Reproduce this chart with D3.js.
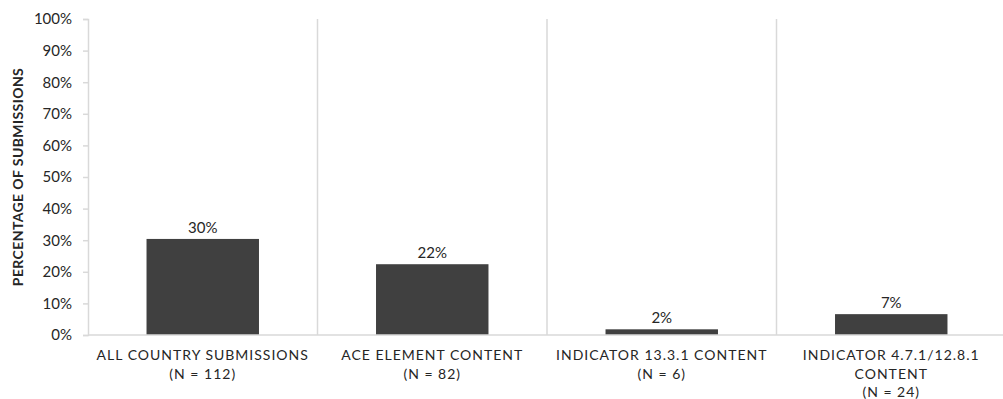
<!DOCTYPE html>
<html>
<head>
<meta charset="utf-8">
<script src="https://cdn.jsdelivr.net/npm/d3@7"></script>
<style>
  body { margin: 0; background: #fff; }
  text { font-family: Lato, "Open Sans", sans-serif; fill: #262626; }
</style>
</head>
<body>
<div id="chart"></div>
<script>
var categories = [
    ["ALL COUNTRY SUBMISSIONS", "(N = 112)"],
    ["ACE ELEMENT CONTENT", "(N = 82)"],
    ["INDICATOR 13.3.1 CONTENT", "(N = 6)"],
    ["INDICATOR 4.7.1/12.8.1", "CONTENT", "(N = 24)"]
];
var values = [30.4, 22.4, 1.8, 6.6];
var y_ticks = [0, 10, 20, 30, 40, 50, 60, 70, 80, 90, 100];

var width = 1003;
var height = 399;
var left = 88;
var right = 1006;
var top_y = 19;
var base_y = 335;

var bar_color = "#404040";
var line_color = "#d9d9d9";

var svg = d3.select("#chart").append("svg")
    .attr("width", width)
    .attr("height", height);

var x = d3.scaleBand()
    .domain(d3.range(categories.length))
    .range([left, right])
    .padding(0);

var y = d3.scaleLinear()
    .domain([0, 100])
    .range([base_y, top_y]);

// y axis
var yAxis = svg.append("g")
    .attr("transform", "translate(" + left + ",0)")
    .call(d3.axisLeft(y).tickValues(y_ticks).tickSize(5).tickPadding(11)
        .tickFormat(function (d) { return d + "%"; }));
yAxis.select(".domain").attr("stroke", line_color).attr("stroke-width", 1.5);
yAxis.selectAll(".tick line").attr("stroke", line_color).attr("stroke-width", 1.5);
yAxis.selectAll(".tick text")
    .style("font-size", "15px")
    .style("font-family", "Lato, sans-serif")
    .attr("fill", "#262626");

// separators between categories
svg.append("g").selectAll("line")
    .data(d3.range(1, categories.length))
    .enter().append("line")
    .attr("x1", function (i) { return x(i); })
    .attr("x2", function (i) { return x(i); })
    .attr("y1", y(100))
    .attr("y2", y(0))
    .attr("stroke", line_color)
    .attr("stroke-width", 1.5);

// bars
var bar_w = x.bandwidth() * 0.49;
svg.append("g").selectAll("rect")
    .data(values)
    .enter().append("rect")
    .attr("x", function (d, i) { return x(i) + (x.bandwidth() - bar_w) / 2; })
    .attr("y", function (d) { return y(d); })
    .attr("width", bar_w)
    .attr("height", function (d) { return y(0) - y(d); })
    .attr("fill", bar_color);

// baseline
svg.append("line")
    .attr("x1", left)
    .attr("x2", right)
    .attr("y1", y(0))
    .attr("y2", y(0))
    .attr("stroke", line_color)
    .attr("stroke-width", 1.5);

// value labels
svg.append("g").selectAll("text")
    .data(values)
    .enter().append("text")
    .attr("x", function (d, i) { return x(i) + x.bandwidth() / 2; })
    .attr("y", function (d) { return y(d) - 6; })
    .attr("text-anchor", "middle")
    .style("font-size", "15px")
    .text(function (d) { return Math.round(d) + "%"; });

// category labels
var cat = svg.append("g").selectAll("text")
    .data(categories)
    .enter().append("text")
    .attr("text-anchor", "middle")
    .attr("x", function (d, i) { return x(i) + x.bandwidth() / 2; })
    .attr("y", 360)
    .style("font-size", "14px")
    .style("letter-spacing", "1px");

cat.selectAll("tspan")
    .data(function (d) { return d; })
    .enter().append("tspan")
    .attr("x", function () { return d3.select(this.parentNode).attr("x"); })
    .attr("dy", function (d, i) { return i == 0 ? 0 : 18.5; })
    .text(function (d) { return d; });

// y axis title
svg.append("text")
    .attr("transform", "translate(23," + ((top_y + base_y) / 2) + ") rotate(-90)")
    .attr("text-anchor", "middle")
    .style("font-size", "14px")
    .style("font-weight", "bold")
    .style("letter-spacing", "0.4px")
    .text("PERCENTAGE OF SUBMISSIONS");
</script>
</body>
</html>
